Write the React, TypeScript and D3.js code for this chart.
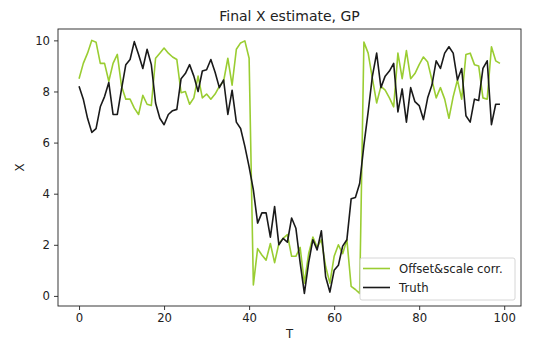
import React, { useRef, useEffect } from "react";
import * as d3 from "d3";

// offset & scale corrected estimate, one value per T = 0..99
const corrected = [
  8.5, 9.1, 9.5, 10.0, 9.93, 9.1, 9.1, 8.4, 9.1, 9.45,
  8.2, 7.7, 7.7, 7.35, 7.1, 7.85, 7.5, 7.45, 9.3, 9.5,
  9.7, 9.5, 9.35, 9.25, 7.95, 8.0, 7.5, 7.75, 8.6, 7.75,
  7.9, 7.7, 7.9, 8.2, 8.4, 9.3, 8.25, 9.65, 9.9, 9.98,
  9.3, 0.43, 1.85, 1.6, 1.4, 2.05, 1.3, 2.05, 2.25, 2.4,
  1.55, 1.55, 1.9, 0.5, 1.65, 2.3, 1.9, 2.2, 1.15, 0.5,
  1.55, 2.0, 1.65, 2.2, 0.37, 0.25, 0.1, 9.93, 9.5, 8.5,
  7.55, 8.2, 8.05, 7.75, 7.4, 9.5, 8.5, 9.6, 8.5, 8.7,
  9.05, 9.35, 9.15, 8.45, 7.75, 8.15, 7.7, 6.95, 7.8, 8.45,
  7.7, 9.45, 9.5, 9.05, 9.0, 7.75, 7.7, 9.75, 9.2, 9.1,
];

const truth = [
  8.2, 7.7, 6.95, 6.4, 6.55, 7.4, 7.8, 8.35, 7.1, 7.1,
  8.1, 9.05, 9.25, 9.95, 9.45, 8.9, 9.65, 9.05, 7.55, 6.95,
  6.7, 7.1, 7.25, 7.3, 8.5, 8.7, 9.05, 8.6, 8.0, 8.8,
  8.85, 9.25, 8.75, 8.15, 8.45, 7.1, 8.05, 6.8, 6.55, 5.85,
  5.05, 4.15, 2.85, 3.25, 3.25, 2.3, 3.5, 2.0, 2.25, 2.1,
  3.05, 2.65, 1.3, 0.1, 1.3, 2.2, 1.8, 2.55, 0.75, 0.15,
  1.0, 1.2, 1.95, 2.2, 3.8, 3.85, 4.4, 5.9, 7.2, 8.6,
  9.5, 8.15, 8.6, 8.8, 9.1, 7.2, 8.1, 6.8, 8.15, 7.6,
  7.45, 6.9, 7.75, 8.25, 9.2, 8.9, 9.5, 9.75, 9.5, 8.45,
  8.9, 7.05, 6.8, 7.7, 7.65, 8.9, 9.2, 6.7, 7.5, 7.5,
];

const xTicks = [0, 20, 40, 60, 80, 100];
const yTicks = [0, 2, 4, 6, 8, 10];

const seriesNames = ["Offset&scale corr.", "Truth"];
const seriesColors = ["#9acd32", "#1a1a1a"];

const App = () => {
  const svgRef = useRef(null);

  useEffect(() => {
    const width = 536;
    const height = 342;
    const m = { left: 58, right: 521, top: 29, bottom: 306 };
    const font = "'DejaVu Sans', sans-serif";
    const fs = 11.7;

    const svg = d3.select(svgRef.current).attr("width", width).attr("height", height);
    svg.selectAll("*").remove();

    const x = d3.scaleLinear().domain([-4.95, 103.95]).range([m.left, m.right]);
    const y = d3.scaleLinear().domain([-0.395, 10.445]).range([m.bottom, m.top]);

    const line = d3
      .line<number>()
      .x((_, i) => x(i))
      .y((d) => y(d));

    [corrected, truth].forEach((s, k) => {
      svg
        .append("path")
        .datum(s)
        .attr("d", line)
        .attr("fill", "none")
        .attr("stroke", seriesColors[k])
        .attr("stroke-width", 1.6)
        .attr("stroke-linejoin", "round");
    });

    // frame
    svg
      .append("rect")
      .attr("x", m.left)
      .attr("y", m.top)
      .attr("width", m.right - m.left)
      .attr("height", m.bottom - m.top)
      .attr("fill", "none")
      .attr("stroke", "#222")
      .attr("stroke-width", 0.9);

    // axes
    const xAxis = svg
      .append("g")
      .attr("transform", `translate(0,${m.bottom})`)
      .call(d3.axisBottom(x).tickValues(xTicks).tickSize(4).tickPadding(4));
    xAxis.select(".domain").remove();

    const yAxis = svg
      .append("g")
      .attr("transform", `translate(${m.left},0)`)
      .call(d3.axisLeft(y).tickValues(yTicks).tickSize(4).tickPadding(4));
    yAxis.select(".domain").remove();

    svg
      .selectAll(".tick text")
      .attr("font-family", font)
      .attr("font-size", fs)
      .attr("fill", "#222");
    svg.selectAll(".tick line").attr("stroke", "#222").attr("stroke-width", 0.9);

    // labels
    svg
      .append("text")
      .attr("x", (m.left + m.right) / 2)
      .attr("y", 21)
      .attr("text-anchor", "middle")
      .attr("font-family", font)
      .attr("font-size", 14)
      .attr("fill", "#222")
      .text("Final X estimate, GP");

    svg
      .append("text")
      .attr("x", (m.left + m.right) / 2)
      .attr("y", 338)
      .attr("text-anchor", "middle")
      .attr("font-family", font)
      .attr("font-size", fs)
      .attr("fill", "#222")
      .text("T");

    svg
      .append("text")
      .attr("transform", `translate(24,${(m.top + m.bottom) / 2}) rotate(-90)`)
      .attr("text-anchor", "middle")
      .attr("font-family", font)
      .attr("font-size", fs)
      .attr("fill", "#222")
      .text("X");

    // legend, lower right
    const lg = svg.append("g").attr("transform", "translate(360,258)");
    lg.append("rect")
      .attr("width", 155)
      .attr("height", 42)
      .attr("rx", 2)
      .attr("fill", "white")
      .attr("fill-opacity", 0.8)
      .attr("stroke", "#ccc")
      .attr("stroke-width", 0.8);

    seriesNames.forEach((name, k) => {
      const yy = 10.5 + k * 19;
      lg.append("line")
        .attr("x1", 3)
        .attr("x2", 30)
        .attr("y1", yy)
        .attr("y2", yy)
        .attr("stroke", seriesColors[k])
        .attr("stroke-width", 1.6);
      lg.append("text")
        .attr("x", 39)
        .attr("y", yy + 4)
        .attr("font-family", font)
        .attr("font-size", fs)
        .attr("fill", "#222")
        .text(name);
    });
  }, []);

  return <svg ref={svgRef} style={{ position: "absolute", left: 0, top: 0 }}></svg>;
};

export default App;
